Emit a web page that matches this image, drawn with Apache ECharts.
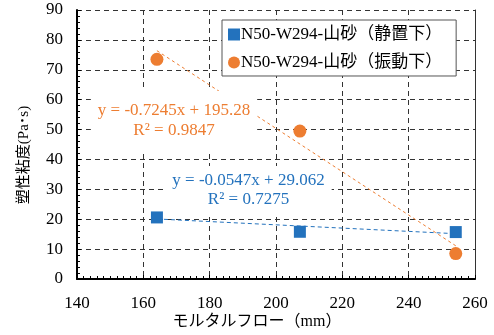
<!DOCTYPE html>
<html>
<head>
<meta charset="utf-8">
<script src="https://cdn.jsdelivr.net/npm/echarts@6/dist/echarts.min.js"></script>
<style>html,body{margin:0;padding:0;background:#fff}#c{width:494px;height:335px}</style>
</head>
<body>
<div id="c"></div>
<script>
const flowStatic = [164.1, 207.2, 254.2];
const viscStatic = [20.6, 15.8, 15.7];
const flowVib = [164.1, 207.2, 254.2];
const viscVib = [73.5, 49.5, 8.5];
const seriesNames = ['N50-W294-山砂（静置下）', 'N50-W294-山砂（振動下）'];
const trendStatic = { slope: -0.0547, intercept: 29.062, r2: '0.7275', eq: 'y = -0.0547x + 29.062' };
const trendVib = { slope: -0.7245, intercept: 195.28, r2: '0.9847', eq: 'y = -0.7245x + 195.28' };
const xTicks = [140, 160, 180, 200, 220, 240, 260];
const yTicks = [0, 10, 20, 30, 40, 50, 60, 70, 80, 90];

const BLUE = '#2372BD', ORANGE = '#ED7D31';
const SERIF = '"Liberation Serif","Noto Sans CJK JP",serif';

function trend(t, xs) {
  const a = Math.min(...xs), b = Math.max(...xs);
  return [[a, t.slope * a + t.intercept], [b, t.slope * b + t.intercept]];
}

const chart = echarts.init(document.getElementById('c'));
chart.setOption({
  animation: false,
  backgroundColor: '#fff',
  grid: { left: 77, right: 19, top: 10, bottom: 56 },
  legend: {
    data: [{ name: seriesNames[0], icon: 'rect' }, { name: seriesNames[1], icon: 'circle' }],
    orient: 'vertical', left: 222, top: 20,
    width: 234,
    padding: [6, 14, 5, 6],
    itemWidth: 12, itemHeight: 12, itemGap: 11,
    backgroundColor: '#fff', borderColor: '#555', borderWidth: 1,
    textStyle: { fontFamily: SERIF, fontSize: 17, color: '#000', padding: [0, 0, 0, -4] }
  },
  xAxis: {
    type: 'value', min: xTicks[0], max: xTicks[xTicks.length - 1], interval: 20,
    axisLine: { show: true, onZero: false, lineStyle: { color: '#000', width: 2 } },
    axisTick: { show: true, inside: true, length: 4, lineStyle: { color: '#000' } },
    minorTick: { show: true, splitNumber: 10, length: 3, lineStyle: { color: '#000' } },
    axisLabel: { fontFamily: SERIF, fontSize: 17, color: '#000', margin: 16 },
    splitLine: { show: true, lineStyle: { color: '#333', type: [5, 4], width: 1 } }
  },
  yAxis: [{
    type: 'value', min: yTicks[0], max: yTicks[yTicks.length - 1], interval: 10,
    axisLine: { show: true, onZero: false, lineStyle: { color: '#000', width: 2 } },
    axisTick: { show: true, inside: true, length: 4, lineStyle: { color: '#000' } },
    minorTick: { show: true, splitNumber: 5, length: 3, lineStyle: { color: '#000' } },
    axisLabel: { fontFamily: SERIF, fontSize: 17, color: '#000', margin: 14 },
    splitLine: { show: true, lineStyle: { color: '#333', type: [5, 4], width: 1 } }
  }, {
    type: 'value', position: 'right', min: yTicks[0], max: yTicks[yTicks.length - 1],
    axisLine: { show: true, lineStyle: { color: '#333', width: 1 } },
    axisTick: { show: false }, axisLabel: { show: false }, splitLine: { show: false }
  }],
  series: [
    {
      name: 'trendVib', type: 'line', data: trend(trendVib, flowVib), symbol: 'none',
      lineStyle: { color: ORANGE, width: 1, type: [3, 3] }, z: 2, silent: true
    },
    {
      name: 'trendStatic', type: 'line', data: trend(trendStatic, flowStatic), symbol: 'none',
      lineStyle: { color: BLUE, width: 1, type: [4, 3] }, z: 2, silent: true
    },
    {
      name: seriesNames[0], type: 'scatter', symbol: 'rect', symbolSize: 12,
      itemStyle: { color: BLUE, opacity: 1 },
      data: flowStatic.map((x, i) => [x, viscStatic[i]]), z: 3
    },
    {
      name: seriesNames[1], type: 'scatter', symbol: 'circle', symbolSize: 13,
      itemStyle: { color: ORANGE, opacity: 1 },
      data: flowVib.map((x, i) => [x, viscVib[i]]), z: 3
    }
  ],
  graphic: [
    { type: 'text', z: 50, x: 174, y: 120.5,
      style: { text: trendVib.eq + '\nR² = ' + trendVib.r2, font: '17px ' + SERIF, fill: ORANGE,
        align: 'center', verticalAlign: 'middle', lineHeight: 19.5,
        backgroundColor: '#fff', padding: [10, 7, 10, 7] } },
    { type: 'text', z: 50, x: 248.5, y: 190,
      style: { text: trendStatic.eq + '\nR² = ' + trendStatic.r2, font: '17px ' + SERIF, fill: BLUE,
        align: 'center', verticalAlign: 'middle', lineHeight: 18.5,
        backgroundColor: '#fff', padding: [6, 7, 5, 7] } },
    { type: 'text', z: 50, x: 257, y: 322,
      style: { text: 'モルタルフロー（mm）', font: '16px ' + SERIF, fill: '#000', align: 'center', verticalAlign: 'middle' } },
    { type: 'text', z: 50, rotation: Math.PI / 2, x: 24, y: 155,
      style: { text: '塑性粘度(Pa･s)', font: '15px ' + SERIF, fill: '#000', align: 'center', verticalAlign: 'middle' } }
  ]
});
</script>
</body>
</html>
